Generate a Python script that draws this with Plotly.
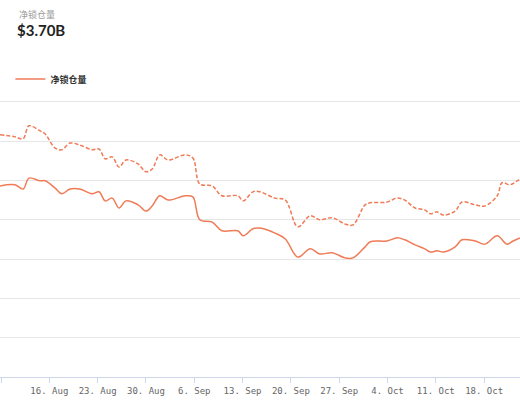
import pandas as pd
import plotly.graph_objects as go

base = pd.Timestamp("2021-07-31 02:24")
solid_days = [8.75,10.9,12.1,12.95,14.55,15.3,16.7,17.7,18.9,20.3,22.1,23.1,24.0,25.0,26.0,27.0,28.75,29.9,30.8,31.9,
              33.1,35.6,36.7,37.7,39.5,40.9,43.2,44.0,45.4,46.4,48.6,50.1,51.9,53.7,55.1,56.9,58.75,59.9,61.65,62.4,
              64.8,66.3,67.4,68.9,70.3,71.1,72.1,73.0,74.7,75.7,77.6,79.0,80.8,82.2,83.1,84.1]
solid_vals = [4.86,4.89,4.78,5.06,4.99,4.99,4.81,4.66,4.78,4.78,4.66,4.71,4.48,4.55,4.30,4.48,4.38,4.22,4.35,4.61,
              4.50,4.61,4.58,4.00,3.94,3.72,3.72,3.59,3.77,3.79,3.66,3.51,3.05,3.26,3.13,3.16,3.03,3.03,3.31,3.44,
              3.46,3.54,3.49,3.36,3.26,3.18,3.21,3.18,3.31,3.49,3.46,3.38,3.59,3.38,3.46,3.54]
dash_days = solid_days[:53] + [81.5, 82.65, 83.7, 84.1]
dash_vals = [6.16,6.11,6.06,6.39,6.26,6.18,5.83,5.78,5.95,5.90,5.78,5.80,5.55,5.60,5.34,5.52,5.42,5.22,5.29,5.65,
             5.52,5.65,5.57,4.91,4.86,4.61,4.61,4.48,4.71,4.71,4.55,4.50,3.82,4.10,4.00,4.05,3.89,3.87,4.38,4.43,
             4.45,4.55,4.50,4.30,4.25,4.15,4.20,4.12,4.22,4.45,4.38,4.35,4.61,4.94,4.89,4.99,5.04]

to_dates = lambda ds: [base + pd.Timedelta(hours=d * 24) for d in ds]
color = "#f07b57"
T, B = 90, 23
H = 400 - T - B

fig = go.Figure()
fig.add_trace(go.Scatter(x=to_dates(dash_days), y=dash_vals, mode="lines", showlegend=False,
                         line=dict(color=color, width=1.5, dash="4px,2px", shape="spline")))
fig.add_trace(go.Scatter(x=to_dates(solid_days), y=solid_vals, mode="lines", name="<b>净锁仓量</b>",
                         line=dict(color=color, width=1.5, shape="spline")))

fig.update_layout(
    width=520, height=400, margin=dict(l=0, r=0, t=T, b=B),
    paper_bgcolor="white", plot_bgcolor="white",
    font=dict(family="Noto Sans CJK SC"),
    xaxis=dict(range=[base + pd.Timedelta(hours=8.75 * 24), base + pd.Timedelta(hours=84.1 * 24)],
               tick0="2021-08-09", dtick=7 * 86400000, tickformat="%-d. %b",
               tickfont=dict(family="DejaVu Sans Mono", size=9, color="#666"),
               showgrid=False, showline=True, linecolor="#ccd6eb", ticks="outside",
               tickcolor="#ccd6eb", ticklen=5, fixedrange=True),
    yaxis=dict(range=[0, 7.3], dtick=1, showticklabels=False, gridcolor="#e6e6e6",
               zeroline=False, fixedrange=True),
    legend=dict(x=0.02, y=(400 - B - 79) / H, xanchor="left", yanchor="middle", orientation="h",
                font=dict(size=9, color="#333"), bgcolor="rgba(0,0,0,0)"),
    annotations=[
        dict(text="净锁仓量", x=17 / 520, y=(400 - B - 15) / H, xref="paper", yref="paper", showarrow=False,
             xanchor="left", yanchor="middle", font=dict(size=9, color="#999")),
        dict(text="<b>$3.70B</b>", x=15 / 520, y=(400 - B - 30) / H, xref="paper", yref="paper", showarrow=False,
             xanchor="left", yanchor="middle", font=dict(size=15, color="#222", family="Lato")),
    ],
)
fig.write_html("out.html", config={"displayModeBar": False},
               post_script="document.body.style.margin='0';document.body.style.overflow='hidden';")
